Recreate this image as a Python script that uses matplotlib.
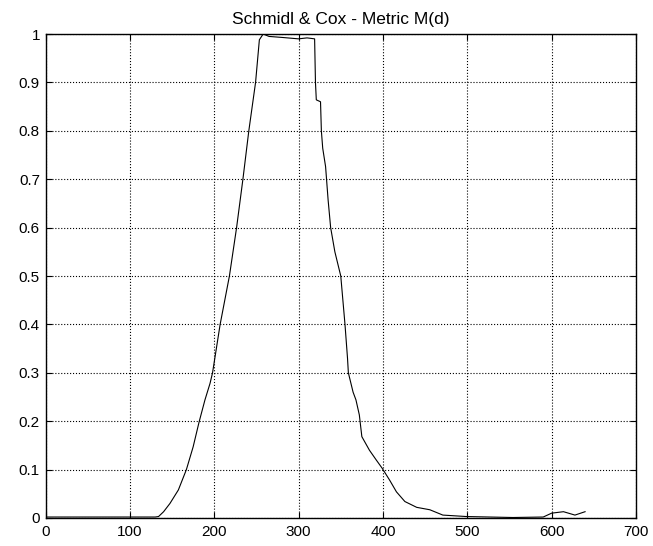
import matplotlib.pyplot as plt

# sample index d
d = [0, 50, 100, 130, 134, 140, 147.5, 157.5, 167, 175, 182, 189, 195, 198,
     207, 218, 226.5, 234, 241, 249, 253.5, 258, 265, 280, 300, 310, 319,
     320, 321, 326, 327, 328.6, 332, 335, 338, 343, 350, 355, 358, 359,
     364.6, 368, 372, 375, 384, 392, 399, 408, 416, 426, 440, 455.6, 471,
     499, 554, 590, 600, 614, 627.6, 639.6]
# metric M(d)
m = [0.002, 0.002, 0.002, 0.002, 0.003, 0.013, 0.03, 0.058, 0.1, 0.147,
     0.198, 0.244, 0.278, 0.3, 0.4, 0.5, 0.6, 0.7, 0.8, 0.9, 0.988, 1.0,
     0.995, 0.993, 0.99, 0.992, 0.99, 0.9, 0.864, 0.86, 0.8, 0.764, 0.726,
     0.657, 0.6, 0.55, 0.5, 0.4, 0.33, 0.3, 0.26, 0.244, 0.213, 0.168,
     0.14, 0.12, 0.103, 0.078, 0.054, 0.034, 0.022, 0.017, 0.006, 0.003,
     0.001, 0.002, 0.01, 0.013, 0.006, 0.013]

xticks = [0, 100, 200, 300, 400, 500, 600, 700]
yticks = [0, 0.1, 0.2, 0.3, 0.4, 0.5, 0.6, 0.7, 0.8, 0.9, 1]
ylabels = ["0", "0.1", "0.2", "0.3", "0.4", "0.5", "0.6", "0.7", "0.8", "0.9", "1"]

plt.rcParams['font.family'] = ['Liberation Sans', 'DejaVu Sans']

fig = plt.figure(figsize=(6.53, 5.46), dpi=100)
ax = fig.add_axes([0.0697, 0.0513, 0.9043, 0.8864])

ax.plot(d, m, color='black', linewidth=0.8)

ax.set_xlim(0, 700)
ax.set_ylim(0, 1)
ax.set_xticks(xticks)
ax.set_yticks(yticks)
ax.set_yticklabels(ylabels)
ax.tick_params(direction='in', length=4.5, labelsize=11, colors='black',
               top=True, right=True)
ax.tick_params(axis='x', pad=5)
ax.tick_params(axis='y', pad=4)
ax.grid(True, linestyle=':', color='black', linewidth=0.8)
for s in ax.spines.values():
    s.set_linewidth(1.0)

ax.set_title("Schmidl & Cox - Metric M(d)", fontsize=12.5, pad=7)

fig.savefig("out.png", dpi=100)
